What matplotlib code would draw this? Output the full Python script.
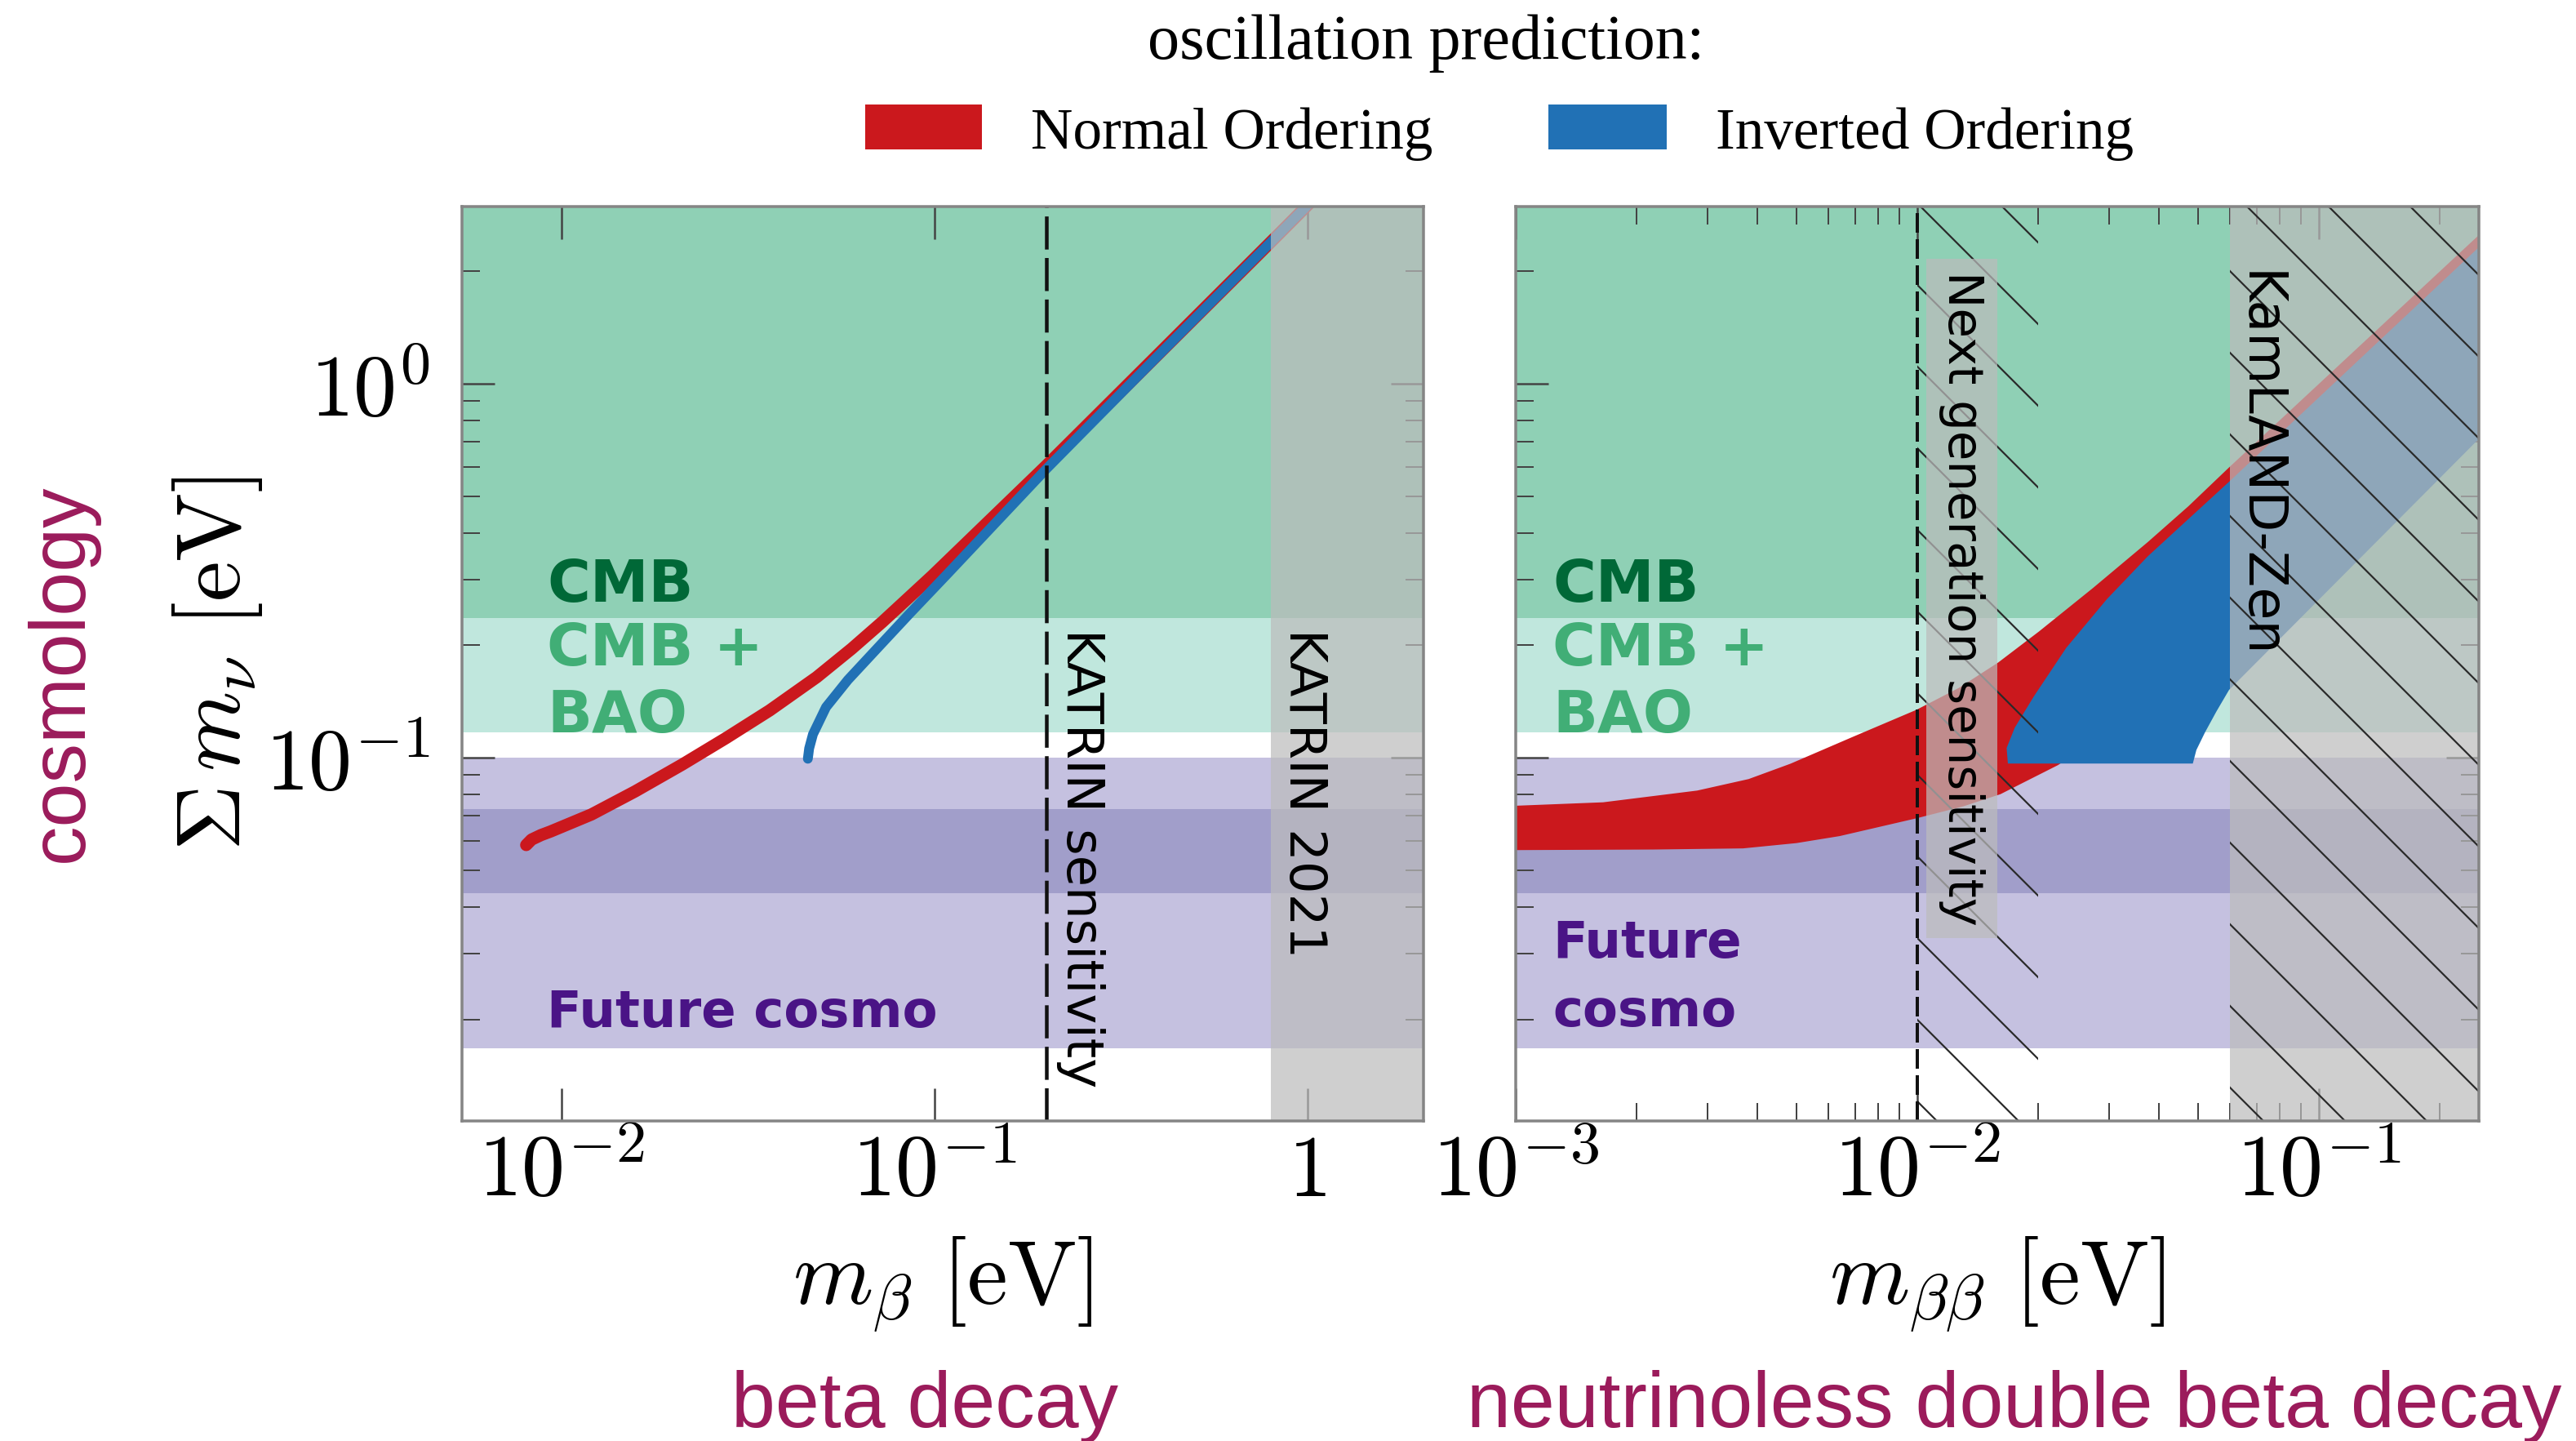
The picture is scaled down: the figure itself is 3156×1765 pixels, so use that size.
import matplotlib
matplotlib.use("Agg")
import matplotlib.pyplot as plt
from matplotlib.ticker import FixedLocator, FixedFormatter, LogLocator, NullLocator, NullFormatter
from matplotlib.patches import Rectangle

# ---------------- data ----------------
# axis ranges
mbeta_lim = (0.0054, 2.05)
mbb_lim = (1e-3, 0.25)
sum_lim = (0.0107, 2.98)

# cosmology bands (sum of neutrino masses, eV)
cmb_limit = 0.237
cmb_bao_limit = 0.117
future_band = (0.0167, 0.100)
future_core = (0.0434, 0.073)

# experimental limits / sensitivities
katrin_sens = 0.2
katrin_2021 = 0.8
nextgen_sens = 0.01
nextgen_end = 0.02
kamland_zen = 0.06

# beta decay: sum of masses vs m_beta
no_mbeta = [0.00803, 0.0083, 0.0088, 0.00934, 0.01201, 0.01574, 0.02104, 0.02758,
            0.03613, 0.04829, 0.060, 0.07245, 0.0987, 0.2, 0.4, 0.8, 1.2]
no_sum = [0.0585, 0.0605, 0.0622, 0.0636, 0.0706, 0.0814, 0.096, 0.113,
          0.134, 0.1644, 0.196, 0.231, 0.307, 0.606, 1.205, 2.40, 3.6]
io_mbeta = [0.04573, 0.0461, 0.0472, 0.05117, 0.05858, 0.07109, 0.0862, 0.1088,
            0.2, 0.4, 0.8, 1.2]
io_sum = [0.0995, 0.106, 0.1157, 0.1367, 0.1617, 0.199, 0.2445, 0.312,
          0.594, 1.196, 2.398, 3.6]

# neutrinoless double beta decay: allowed regions (sum vs m_bb)
no_up_mbb = [1.0e-3, 1.65e-3, 2.83e-3, 3.8e-3, 4.83e-3, 6.9e-3, 9.95e-3, 0.0127,
             0.0159, 0.0201, 0.0274, 0.0375, 0.0473, 0.0597, 0.25]
no_up_sum = [0.0745, 0.0761, 0.0818, 0.0878, 0.0965, 0.1138, 0.1345, 0.154,
             0.180, 0.218, 0.285, 0.378, 0.471, 0.598, 2.50]
no_low_mbb = [1.0e-3, 2.2e-3, 3.68e-3, 5.0e-3, 6.4e-3, 9.97e-3, 0.013, 0.0161,
              0.0224, 0.030, 0.045, 0.07, 0.12, 0.25]
no_low_sum = [0.0567, 0.0569, 0.0573, 0.0592, 0.0618, 0.069, 0.0742, 0.080,
              0.0957, 0.118, 0.16, 0.235, 0.38, 0.76]
io_up_mbb = [0.0168, 0.01668, 0.01747, 0.0195, 0.02348, 0.02965, 0.0375, 0.0473,
             0.0597, 0.25]
io_up_sum = [0.0966, 0.1063, 0.1204, 0.1461, 0.197, 0.266, 0.3463, 0.4354,
             0.5475, 2.32]
io_low_mbb = [0.0485, 0.0495, 0.052, 0.0555, 0.0597, 0.25]
io_low_sum = [0.0966, 0.105, 0.117, 0.133, 0.152, 0.713]

# tick labels
xticks_L = [0.01, 0.1, 1.0]
xlabels_L = [r'$10^{-2}$', r'$10^{-1}$', r'$1$']
xticks_R = [1e-3, 1e-2, 1e-1]
xlabels_R = [r'$10^{-3}$', r'$10^{-2}$', r'$10^{-1}$']
yticks = [0.1, 1.0]
ylabels = [r'$10^{-1}$', r'$10^{0}$']

# ---------------- style ----------------
c_cmb = '#8fd0b5'
c_cmbbao = '#c0e7dd'
c_fut = '#c5c1e0'
c_futcore = '#a19eca'
c_gray = '#bcbcbc'
gray_alpha = 0.71
c_no = '#cb181d'
c_io = '#2171b5'
c_cmb_txt = '#006837'
c_bao_txt = '#41ae76'
c_fut_txt = '#4a1486'
c_purple = '#9b1b5b'

DPI = 300
W_PX, H_PX = 3156, 1765


def pt(px):
    """convert a size in output pixels to points"""
    return px * 72.0 / DPI


plt.rcParams['mathtext.fontset'] = 'cm'
plt.rcParams['hatch.linewidth'] = pt(2.2)

fig = plt.figure(figsize=(W_PX / DPI, H_PX / DPI), dpi=DPI)
fig.patch.set_facecolor('white')

axL = fig.add_axes([566 / W_PX, 1 - 1373 / H_PX, 1178 / W_PX, 1120 / H_PX])
axR = fig.add_axes([1857 / W_PX, 1 - 1373 / H_PX, 1180 / W_PX, 1120 / H_PX])

for ax, xlim in ((axL, mbeta_lim), (axR, mbb_lim)):
    ax.set_xscale('log')
    ax.set_yscale('log')
    ax.set_xlim(*xlim)
    ax.set_ylim(*sum_lim)
    ax.axhspan(cmb_limit, sum_lim[1], color=c_cmb, lw=0, zorder=0.5)
    ax.axhspan(cmb_bao_limit, cmb_limit, color=c_cmbbao, lw=0, zorder=0.5)
    ax.axhspan(future_band[0], future_band[1], color=c_fut, lw=0, zorder=0.5)
    ax.axhspan(future_core[0], future_core[1], color=c_futcore, lw=0, zorder=0.6)
    for s in ax.spines.values():
        s.set_color('#858585')
        s.set_linewidth(pt(3.5))
        s.set_zorder(6)
    ax.yaxis.set_major_locator(FixedLocator(yticks))
    ax.yaxis.set_minor_locator(LogLocator(base=10, subs=[2, 3, 4, 5, 6, 7, 8, 9], numticks=30))
    ax.yaxis.set_minor_formatter(NullFormatter())
    ax.tick_params(axis='both', which='both', direction='in', top=True, right=True,
                   colors='#444444', labelcolor='black', zorder=6)
    ax.tick_params(axis='both', which='major', length=pt(40), width=pt(2.5),
                   labelsize=pt(106))
    ax.tick_params(axis='both', which='minor', length=pt(22), width=pt(2))
    ax.tick_params(axis='y', which='major', pad=pt(39))
    ax.tick_params(axis='x', which='major', pad=pt(12))

# ---------- left panel: beta decay ----------
axL.plot(no_mbeta, no_sum, color=c_no, lw=pt(15), solid_capstyle='round',
         solid_joinstyle='round', zorder=2)
axL.plot(io_mbeta, io_sum, color=c_io, lw=pt(12), solid_capstyle='round',
         solid_joinstyle='round', zorder=2.1)
axL.axvspan(katrin_2021, mbeta_lim[1], color=c_gray, alpha=gray_alpha, lw=0, zorder=3)
axL.axvline(katrin_sens, color='#111111', lw=pt(4.5), ls=(0, (9, 2.3)), zorder=4)

axL.xaxis.set_major_locator(FixedLocator(xticks_L))
axL.xaxis.set_major_formatter(FixedFormatter(xlabels_L))
axL.xaxis.set_minor_locator(NullLocator())
axL.yaxis.set_major_formatter(FixedFormatter(ylabels))

axL.text(katrin_sens * 1.062, 0.222, 'KATRIN sensitivity', rotation=-90, ha='left',
         va='top', fontsize=pt(62.5), family='DejaVu Sans', zorder=5)
axL.text(katrin_2021 * 1.05, 0.222, 'KATRIN 2021', rotation=-90, ha='left',
         va='top', fontsize=pt(62.5), family='DejaVu Sans', zorder=5)

axL.set_xlabel(r'$m_\beta\ [\mathrm{eV}]$', fontsize=pt(112), labelpad=pt(25))
axL.set_ylabel(r'$\Sigma\, m_\nu\ [\mathrm{eV}]$', fontsize=pt(112), labelpad=pt(1))

# ---------- right panel: 0vbb ----------
axR.fill(no_up_mbb + no_low_mbb[::-1], no_up_sum + no_low_sum[::-1],
         color=c_no, lw=0, zorder=2)
axR.fill(io_up_mbb + io_low_mbb[::-1], io_up_sum + io_low_sum[::-1],
         color=c_io, lw=0, zorder=2.1)
axR.axvspan(kamland_zen, mbb_lim[1], color=c_gray, alpha=gray_alpha, lw=0, zorder=3)
axR.axvspan(kamland_zen, mbb_lim[1], facecolor='none', edgecolor='#2a2a2a',
            hatch='\\', lw=0, zorder=3.5)
axR.axvspan(nextgen_sens, nextgen_end, facecolor='none', edgecolor='#2a2a2a',
            hatch='\\', lw=0, zorder=3.5)
axR.axvline(nextgen_sens, color='#111111', lw=pt(4), ls=(0, (6, 2)), zorder=4)

axR.xaxis.set_major_locator(FixedLocator(xticks_R))
axR.xaxis.set_major_formatter(FixedFormatter(xlabels_R))
axR.xaxis.set_minor_locator(LogLocator(base=10, subs=[2, 3, 4, 5, 6, 7, 8, 9], numticks=30))
axR.xaxis.set_minor_formatter(NullFormatter())
axR.yaxis.set_major_formatter(NullFormatter())

axR.text(0.0129, 2.0, 'Next generation sensitivity', rotation=-90, ha='center',
         va='top', fontsize=pt(59.4), family='DejaVu Sans', zorder=5,
         bbox=dict(boxstyle='square,pad=0.25', fc=c_gray, ec='none', alpha=gray_alpha))
axR.text(kamland_zen * 1.01, 2.0, 'KamLAND-Zen', rotation=-90, ha='left', va='top',
         fontsize=pt(65), family='DejaVu Sans', zorder=5)

axR.set_xlabel(r'$m_{\beta\beta}\ [\mathrm{eV}]$', fontsize=pt(112), labelpad=pt(25))

# band labels
lab = dict(ha='left', va='baseline', weight='bold', family='DejaVu Sans', zorder=5)
for ax, xf in ((axL, 0.0883), (axR, 0.0381)):
    ax.text(xf, 0.5681, 'CMB', transform=ax.transAxes, color=c_cmb_txt,
            fontsize=pt(72), **lab)
    ax.text(xf, 0.4982, 'CMB +', transform=ax.transAxes, color=c_bao_txt,
            fontsize=pt(72), **lab)
    ax.text(xf, 0.4250, 'BAO', transform=ax.transAxes, color=c_bao_txt,
            fontsize=pt(72), **lab)
axL.text(0.0883, 0.1027, 'Future cosmo', transform=axL.transAxes, color=c_fut_txt,
         fontsize=pt(62.5), **lab)
axR.text(0.0381, 0.1786, 'Future', transform=axR.transAxes, color=c_fut_txt,
         fontsize=pt(62.5), **lab)
axR.text(0.0381, 0.1036, 'cosmo', transform=axR.transAxes, color=c_fut_txt,
         fontsize=pt(62.5), **lab)

# ---------- figure-level annotations ----------
serif = 'Liberation Serif'
fig.text(1747 / W_PX, 1 - 71.7 / H_PX, 'oscillation prediction:', ha='center',
         va='baseline', family=serif, fontsize=pt(78))
fig.add_artist(Rectangle((1060 / W_PX, 1 - 183 / H_PX), 143 / W_PX, 55 / H_PX,
                         transform=fig.transFigure, color=c_no, lw=0))
fig.text(1263 / W_PX, 1 - 181.7 / H_PX, 'Normal Ordering', ha='left', va='baseline',
         family=serif, fontsize=pt(71.25))
fig.add_artist(Rectangle((1897 / W_PX, 1 - 183 / H_PX), 145 / W_PX, 55 / H_PX,
                         transform=fig.transFigure, color=c_io, lw=0))
fig.text(2102 / W_PX, 1 - 181.7 / H_PX, 'Inverted Ordering', ha='left', va='baseline',
         family=serif, fontsize=pt(71.25))

sans = 'Liberation Sans'
fig.text(76 / W_PX, 1 - 824.5 / H_PX, 'cosmology', rotation=90, ha='center',
         va='center', family=sans, fontsize=pt(96.9), color=c_purple)
fig.text(1133.5 / W_PX, 1 - 1748 / H_PX, 'beta decay', ha='center', va='baseline',
         family=sans, fontsize=pt(96.9), color=c_purple)
fig.text(2468 / W_PX, 1 - 1748 / H_PX, 'neutrinoless double beta decay', ha='center',
         va='baseline', family=sans, fontsize=pt(96.9), color=c_purple)

fig.savefig('out.png', dpi=DPI)
